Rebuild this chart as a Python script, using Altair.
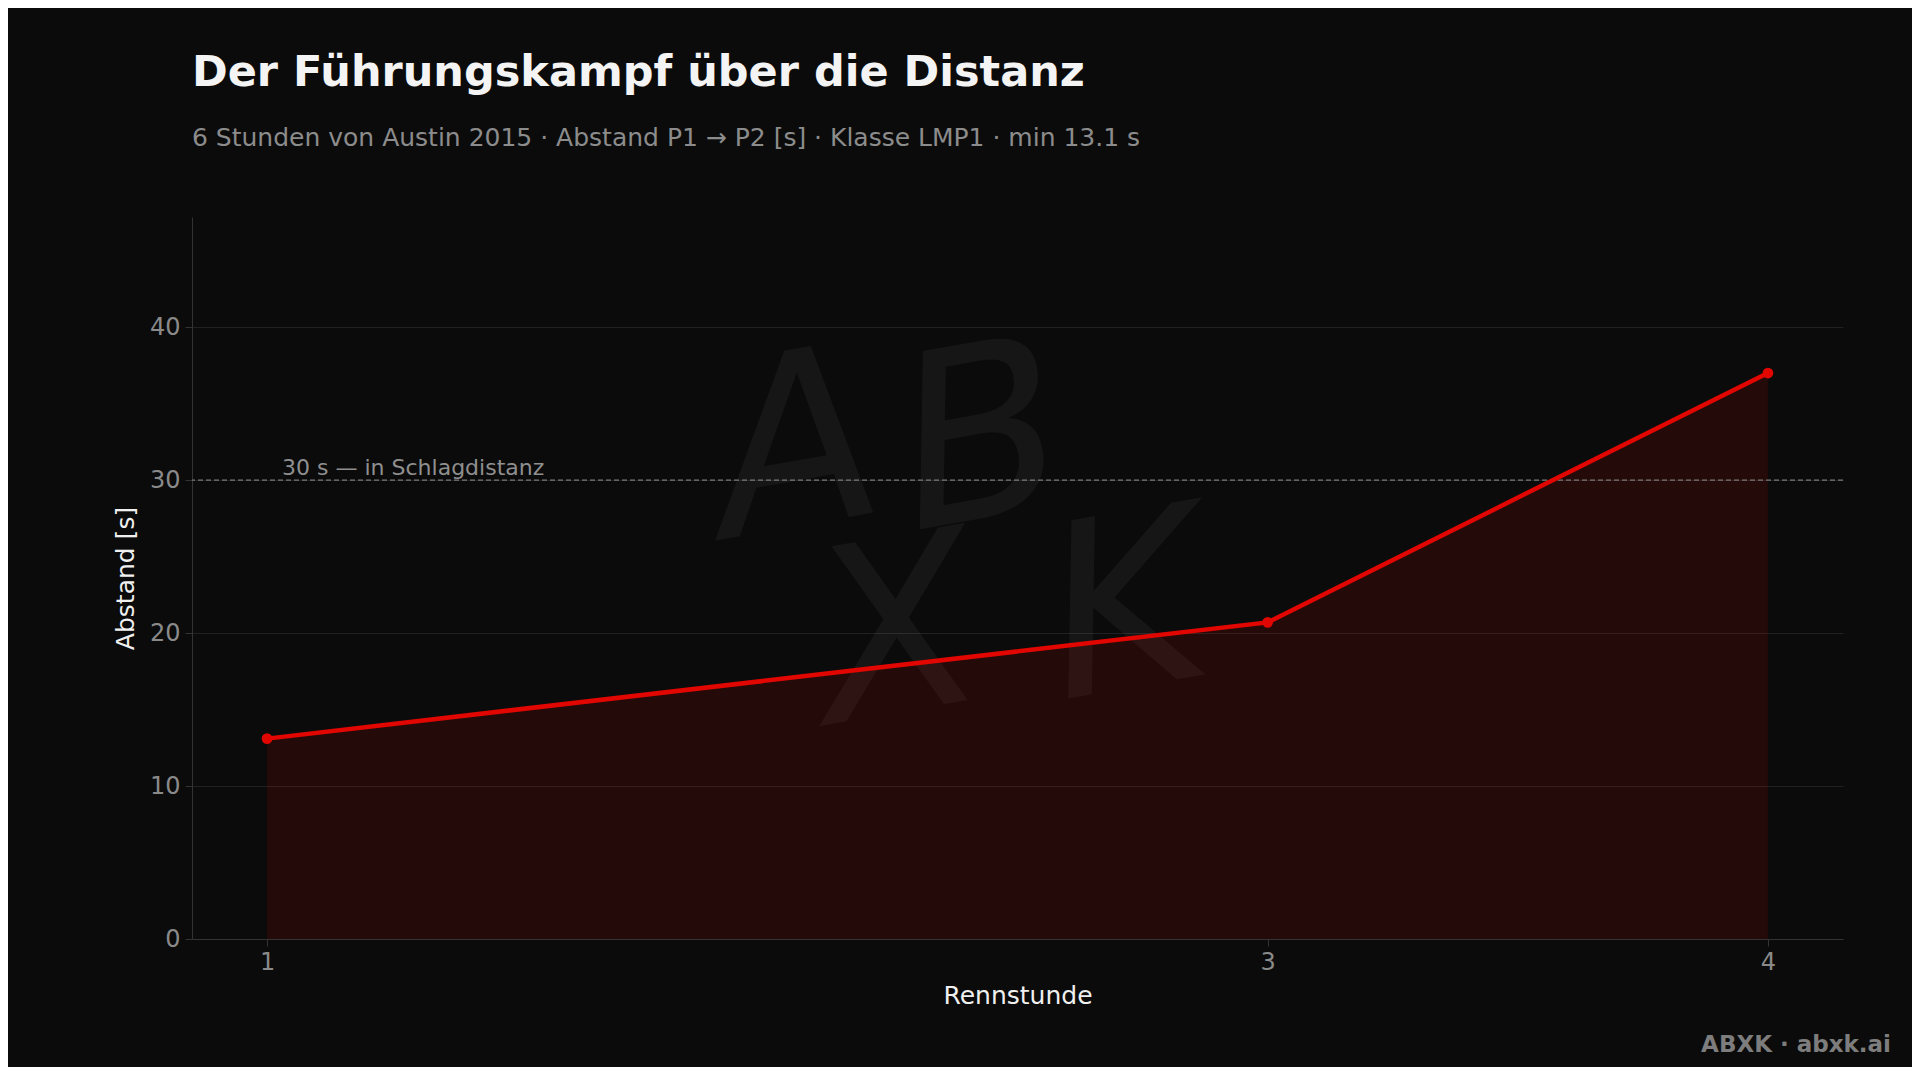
import altair as alt
import pandas as pd

# ---- data ----
hours = [1, 3, 4]
gap_s = [13.1, 20.7, 37.0]
threshold = [30]
threshold_label = ["30 s — in Schlagdistanz"]
x_ticks = [1, 3, 4]
y_ticks = [0, 10, 20, 30, 40]

title_text = "Der Führungskampf über die Distanz"
subtitle_text = "6 Stunden von Austin 2015 · Abstand P1 → P2 [s] · Klasse LMP1 · min 13.1 s"
footer_text = "ABXK · abxk.ai"
watermark_letters = ["A", "B", "X", "K"]

df = pd.DataFrame({"hour": hours, "gap": gap_s})
df_thr = pd.DataFrame({"y": threshold, "label": threshold_label, "x": [1.03]})

RED = "#e10600"
BG = "#0b0b0b"
FONT = "DejaVu Sans"

W, H = 1651, 722

x_scale = alt.Scale(domain=[0.85, 4.15], nice=False, zero=False)
y_scale = alt.Scale(domain=[0, 47.2], nice=False)

x_enc = alt.X("hour:Q", scale=x_scale,
              axis=alt.Axis(values=x_ticks, format="d", title="Rennstunde", grid=False))
y_enc = alt.Y("gap:Q", scale=y_scale,
              axis=alt.Axis(values=y_ticks, format="d", title="Abstand [s]", grid=True))

base = alt.Chart(df)

area = base.mark_area(color=RED, opacity=0.12).encode(x=x_enc, y=y_enc)

# decorative watermark (signature-like letters)
wm_pos = [(604, 236), (790, 228), (706, 422), (935, 398)]
wm_layers = []
for letter, (px, py) in zip(watermark_letters, wm_pos):
    wm_layers.append(
        alt.Chart(pd.DataFrame({"t": [letter]})).mark_text(
            font=FONT, fontSize=240, fontStyle="italic", color="#ffffff", opacity=0.045,
            align="center", baseline="middle", angle=350
        ).encode(text="t:N", x=alt.value(px), y=alt.value(py))
    )

rule = alt.Chart(df_thr).mark_rule(color="#7a7a7a", strokeDash=[5, 3], strokeWidth=1.2).encode(
    y=alt.Y("y:Q", scale=y_scale)
)

rule_label = alt.Chart(df_thr).mark_text(
    font=FONT, fontSize=22, color="#8f8f8f", align="left", baseline="alphabetic", dy=-5
).encode(
    x=alt.X("x:Q", scale=x_scale),
    y=alt.Y("y:Q", scale=y_scale),
    text="label:N",
)

line = base.mark_line(color=RED, strokeWidth=4.5).encode(x=x_enc, y=y_enc)
points = base.mark_circle(color=RED, size=115, opacity=1).encode(x=x_enc, y=y_enc)

footer = alt.Chart(pd.DataFrame({"t": [footer_text]})).mark_text(
    font=FONT, fontSize=23, fontWeight="bold", color="#7d7d7d", align="right", baseline="middle"
).encode(text="t:N", x=alt.value(1699), y=alt.value(828))

chart = alt.layer(area, *wm_layers, rule, rule_label, line, points, footer).properties(
    width=W,
    height=H,
    background=BG,
    autosize=alt.AutoSizeParams(type="none"),
    padding={"left": 184, "top": 209, "right": 69, "bottom": 128},
    title=alt.TitleParams(
        text=title_text,
        subtitle=subtitle_text,
        anchor="start",
        frame="group",
        font=FONT,
        fontSize=43,
        fontWeight="bold",
        color="#f4f4f4",
        subtitleFont=FONT,
        subtitleFontSize=25,
        subtitleColor="#8c8c8c",
        subtitlePadding=31,
        offset=66,
    ),
).configure_view(stroke=None, fill=BG).configure_axis(
    domainColor="#333333",
    tickColor="#333333",
    tickSize=7,
    gridColor="#212121",
    gridWidth=1,
    labelFont=FONT,
    labelFontSize=24,
    labelColor="#8a8a8a",
    titleFont=FONT,
    titleFontSize=25,
    titleFontWeight="normal",
    titleColor="#f0f0f0",
).configure_axisX(
    labelPadding=4, titlePadding=9
).configure_axisY(
    labelPadding=5, titlePadding=11
)

chart.save("out.html", embed_options={"renderer": "svg", "actions": False})
